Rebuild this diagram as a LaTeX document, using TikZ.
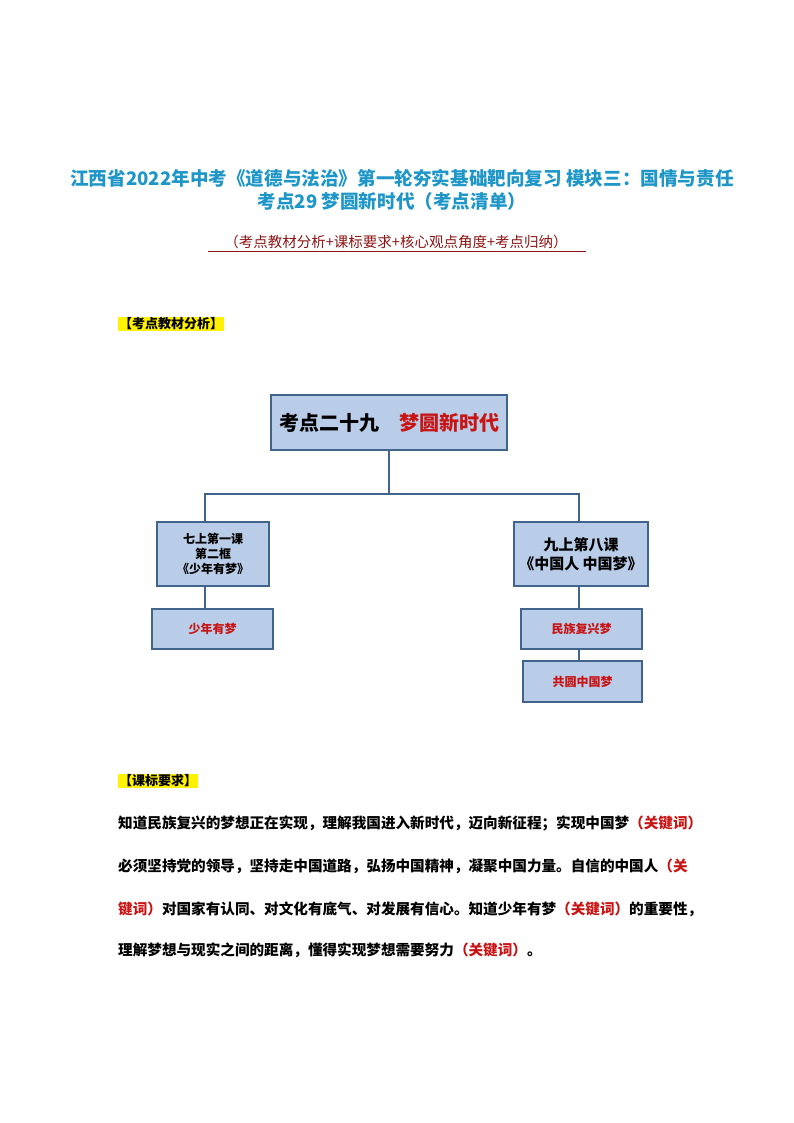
\documentclass[tikz,border=0pt]{standalone}
\usepackage{fontspec}
\setmainfont{Noto Sans CJK SC}
\definecolor{tblue}{RGB}{30,150,200}
\definecolor{dred}{RGB}{140,20,20}
\definecolor{bfill}{RGB}{185,205,232}
\definecolor{bline}{RGB}{65,100,140}
\definecolor{kred}{RGB}{200,20,20}
\begin{document}
\begin{tikzpicture}[x=1pt,y=-1pt,
  box/.style={draw=bline,line width=2pt,fill=bfill,inner sep=0pt,align=center,anchor=north west},
  conn/.style={draw=bline,line width=2pt},
  lbl/.style={fill=yellow,inner sep=1pt,font=\fontsize{13}{15}\selectfont\bfseries,anchor=west},
  para/.style={anchor=west,font=\fontsize{14.6}{17}\selectfont\bfseries,inner sep=0pt}]
\useasboundingbox (0,0) rectangle (794,1123);
\node[font=\fontsize{18.6}{22}\selectfont\bfseries,text=tblue] (t1) at (402,178) {江西省2022年中考《道德与法治》第一轮夯实基础靶向复习\ 模块三：国情与责任};
\node[font=\fontsize{18.6}{22}\selectfont\bfseries,text=tblue] (t2) at (392,201) {考点29\ 梦圆新时代（考点清单）};
\node[font=\fontsize{14.5}{17}\selectfont,text=dred] (t3) at (396,242) {（考点教材分析+课标要求+核心观点角度+考点归纳）};
\draw[dred,line width=0.8pt] (208,251) -- (586,251);
\node[lbl] (l1) at (118,324) {【考点教材分析】};
\node[box,minimum width=236,minimum height=55] (top) at (270,394) {};
\node[font=\fontsize{20}{24}\selectfont\bfseries] at (top.center) {考点二十九\quad\textcolor{kred}{梦圆新时代}};
\node[box,minimum width=112,minimum height=64,font=\fontsize{12}{15}\selectfont\bfseries] (a) at (156,521) {七上第一课\\第二框\\《少年有梦》};
\node[box,minimum width=134,minimum height=64,font=\fontsize{15}{19}\selectfont\bfseries] (b) at (513,521) {九上第八课\\《中国人\ 中国梦》};
\node[box,minimum width=121,minimum height=40,font=\fontsize{12}{14}\selectfont\bfseries,text=kred] (a1) at (151,608) {少年有梦};
\node[box,minimum width=121,minimum height=40,font=\fontsize{12}{14}\selectfont\bfseries,text=kred] (b1) at (520,608) {民族复兴梦};
\node[box,minimum width=119,minimum height=41,font=\fontsize{12}{14}\selectfont\bfseries,text=kred] (b2) at (522,660) {共圆中国梦};
\coordinate (j) at (389,494);
\draw[conn] (top.south) -- (j);
\draw[conn] (a.north -| 205,0) |- (j) -| (b.north -| 579,0);
\draw[conn] (a.south -| 205,0) -- (a1.north -| 205,0);
\draw[conn] (b.south -| 579,0) -- (b1.north -| 579,0);
\draw[conn] (b1.south -| 579,0) -- (b2.north -| 579,0);
\node[lbl] (l2) at (118,781) {【课标要求】};
\node[para] (p1) at (118,823) {知道民族复兴的梦想正在实现，理解我国进入新时代，迈向新征程；实现中国梦\textcolor{kred}{（关键词）}};
\node[para] (p2) at (118,866) {必须坚持党的领导，坚持走中国道路，弘扬中国精神，凝聚中国力量。自信的中国人\textcolor{kred}{（关}};
\node[para] (p3) at (118,909) {\textcolor{kred}{键词）}对国家有认同、对文化有底气、对发展有信心。知道少年有梦\textcolor{kred}{（关键词）}的重要性，};
\node[para] (p4) at (118,950) {理解梦想与现实之间的距离，懂得实现梦想需要努力\textcolor{kred}{（关键词）}。};
\end{tikzpicture}
\end{document}
